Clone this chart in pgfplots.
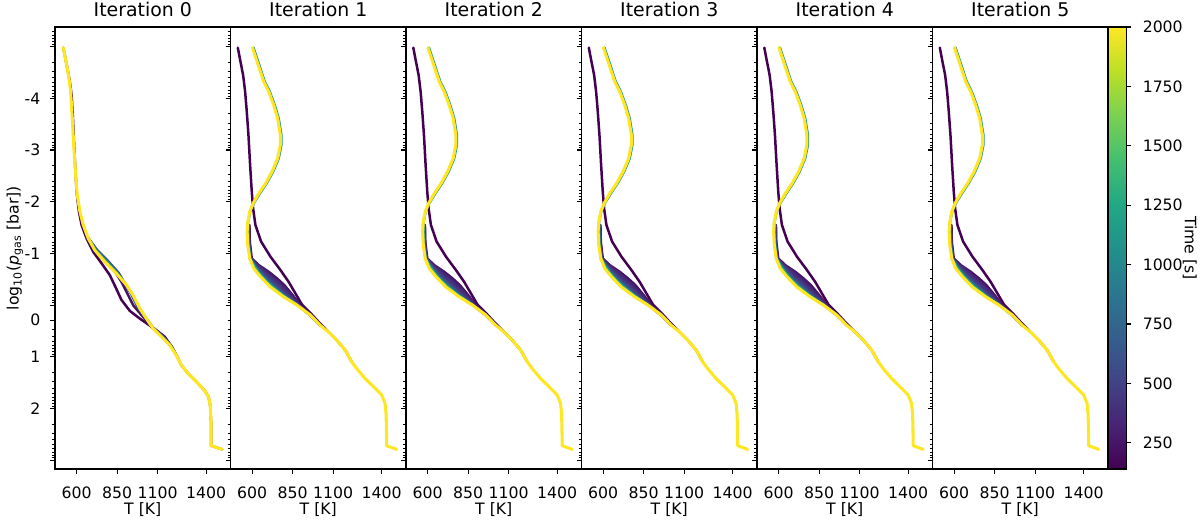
\documentclass[border=0pt]{standalone}
\usepackage{pgfplots}
\pgfplotsset{compat=1.18}
\usepackage{pgfplotstable}
\usepackage{fontspec}
\setmainfont{DejaVu Sans}

\definecolor{v00}{RGB}{68,1,84}
\definecolor{v05}{RGB}{71,19,101}
\definecolor{v10}{RGB}{72,36,117}
\definecolor{v15}{RGB}{70,51,127}
\definecolor{v22}{RGB}{64,71,136}
\definecolor{v25}{RGB}{59,82,139}
\definecolor{v30}{RGB}{53,95,141}
\definecolor{v50}{RGB}{33,145,140}
\definecolor{v60}{RGB}{34,168,132}
\definecolor{v100}{RGB}{253,231,37}

% ---------- Iteration 0 ----------
\pgfplotstableread{
T L
518.3 -4.98
538.8 -4.65
557.2 -4.35
569.6 -4.06
577.8 -3.61
586.0 -3.03
594.2 -2.52
602.4 -2.13
614.7 -1.81
631.1 -1.55
661.8 -1.29
702.9 -1.03
754.1 -0.81
805.4 -0.58
840.3 -0.35
877.2 -0.10
928.5 0.11
990.0 0.26
1082.3 0.46
1143.8 0.61
1189.0 0.81
1221.8 1.00
1246.4 1.16
1287.4 1.32
1338.7 1.48
1390.0 1.65
1414.6 1.77
1424.8 1.94
1431.0 2.32
1431.0 2.72
1498.7 2.79
}\Aone
\pgfplotstableread{
T L
641.3 -1.55
661.8 -1.32
713.1 -1.08
774.7 -0.87
836.2 -0.65
877.2 -0.45
908.0 -0.26
949.0 0.00
1000.3 0.19
1062.0 0.42
1123.3 0.59
1174.6 0.77
}\Atwo
\pgfplotstableread{
T L
672.1 -1.30
723.4 -1.08
795.2 -0.85
860.8 -0.62
897.7 -0.42
934.6 -0.23
975.6 0.03
1024.9 0.24
1074.1 0.45
1133.6 0.60
1184.9 0.79
1215.6 0.97
}\Athree
\pgfplotstableread{
T L
672.1 -1.30
717.2 -1.07
784.9 -0.85
852.6 -0.61
905.9 -0.40
944.9 -0.21
985.9 0.05
1029.0 0.25
1074.1 0.45
}\Afour
\pgfplotstableread{
T L
518.3 -4.98
538.8 -4.65
553.1 -4.39
563.4 -4.13
573.7 -3.61
583.9 -3.03
594.2 -2.52
604.4 -2.13
620.8 -1.81
641.3 -1.55
672.1 -1.29
713.1 -1.06
774.7 -0.84
846.4 -0.61
908.0 -0.39
949.0 -0.19
990.0 0.06
1031.0 0.26
1072.0 0.45
1123.3 0.61
1174.6 0.77
1215.6 0.97
1246.4 1.16
1287.4 1.32
1338.7 1.48
1390.0 1.65
1414.6 1.77
1424.8 1.94
1431.0 2.32
1431.0 2.72
1498.7 2.79
}\Ayel

% ---------- Iterations 1-5 ----------
\pgfplotstableread{
T L
512.1 -4.98
528.5 -4.71
544.9 -4.45
557.2 -4.13
567.5 -3.74
577.8 -3.29
588.0 -2.71
598.3 -2.19
606.5 -1.87
620.8 -1.55
655.7 -1.23
713.1 -0.94
774.7 -0.68
825.9 -0.45
867.0 -0.23
908.0 -0.01
959.2 0.15
1020.8 0.36
1072.0 0.52
1123.3 0.68
1174.6 0.87
1215.6 1.10
}\Bone
\pgfplotstableread{
T L
583.9 -1.55
586.0 -1.226
598.3 -0.903
641.3 -0.774
702.9 -0.645
754.1 -0.516
799.3 -0.387
850.5 -0.194
897.7 0.000
955.1 0.161
1020.8 0.39
}\Btwo
\pgfplotstableread{
T L
581.9 -1.55
583.9 -1.226
594.2 -0.903
635.2 -0.774
688.5 -0.645
737.7 -0.516
782.9 -0.387
840.3 -0.194
891.6 0.000
951.0 0.161
1020.8 0.39
}\Btwob
\pgfplotstableread{
T L
579.8 -1.55
581.9 -1.226
592.1 -0.903
627.0 -0.774
672.1 -0.645
717.2 -0.516
764.4 -0.387
825.9 -0.194
887.5 0.000
946.9 0.161
1020.8 0.39
}\Bthree
\pgfplotstableread{
T L
577.8 -1.55
579.8 -1.226
590.1 -0.903
620.8 -0.774
657.7 -0.645
698.8 -0.516
745.9 -0.387
811.6 -0.194
883.4 0.000
942.8 0.161
}\Bthreeb
\pgfplotstableread{
T L
575.7 -1.55
577.8 -1.226
588.0 -0.903
614.7 -0.774
647.5 -0.645
684.4 -0.516
729.5 -0.387
799.3 -0.194
879.3 0.000
}\Bfour
\pgfplotstableread{
T L
573.7 -1.55
575.7 -1.226
586.0 -0.903
610.6 -0.774
637.2 -0.645
672.1 -0.516
715.2 -0.387
789.0 -0.194
877.2 0.000
}\Bfive
\pgfplotstableread{
T L
608.5 -4.98
637.2 -4.71
678.3 -4.32
709.0 -4.13
739.8 -3.87
764.4 -3.61
780.8 -3.29
780.8 -3.10
764.4 -2.84
729.5 -2.58
688.5 -2.35
647.5 -2.16
610.6 -1.97
588.0 -1.81
571.6 -1.55
}\Bsix
\pgfplotstableread{
T L
602.4 -4.98
631.1 -4.71
672.1 -4.32
702.9 -4.13
733.6 -3.87
758.2 -3.61
774.7 -3.29
774.7 -3.10
758.2 -2.84
723.4 -2.58
682.4 -2.35
641.3 -2.16
606.5 -1.97
586.0 -1.81
573.7 -1.61
569.6 -1.42
573.7 -1.16
586.0 -0.90
610.6 -0.71
651.6 -0.55
713.1 -0.35
795.2 -0.16
877.2 0.00
959.2 0.19
1020.8 0.39
1072.0 0.52
1123.3 0.68
1174.6 0.87
1215.6 1.10
1246.4 1.23
1297.7 1.42
1359.2 1.61
1400.2 1.74
1420.7 1.90
1426.9 2.10
1429.0 2.32
1431.0 2.72
1492.5 2.79
}\Byel

\pgfplotsset{
  panel/.style={
    width=126.36pt, height=318.24pt, scale only axis,
    xmin=467, xmax=1550, ymin=-5.38, ymax=3.17, y dir=reverse,
    xtick={600,850,1100,1400}, xticklabels={600,850,1100,1400},
    xlabel={T [K]},
    minor ytick={-5.301,-5.222,-5.155,-5.097,-5.046,
      -4.699,-4.523,-4.398,-4.301,-4.222,-4.155,-4.097,-4.046,
      -3.699,-3.523,-3.398,-3.301,-3.222,-3.155,-3.097,-3.046,
      -2.699,-2.523,-2.398,-2.301,-2.222,-2.155,-2.097,-2.046,
      -1.699,-1.523,-1.398,-1.301,-1.222,-1.155,-1.097,-1.046,
      -0.699,-0.523,-0.398,-0.301,-0.222,-0.155,-0.097,-0.046,
      0.301,0.477,0.602,0.699,0.778,0.845,0.903,0.954,
      1.301,1.477,1.602,1.699,1.778,1.845,1.903,1.954,
      2.301,2.477,2.602,2.699,2.778,2.845,2.903,2.954},
    tick align=outside, major tick length=3.5pt, minor tick length=2pt,
    xtick pos=bottom, ytick pos=left,
    axis line style={line width=0.8pt},
    major tick style={line width=0.8pt, black},
    minor tick style={line width=0.6pt, black},
    ticklabel style={font=\fontsize{11.3}{13}\selectfont},
    every x tick label/.style={anchor=base, yshift=-17.5pt},
    every y tick label/.style={anchor=east, xshift=-3.5pt},
    every axis x label/.style={at={(axis description cs:0.5,0)}, anchor=base, yshift=-32.8pt, font=\fontsize{11.3}{13}\selectfont},
    every axis y label/.style={at={(axis description cs:-0.228,0.5)}, anchor=center, rotate=90, font=\fontsize{11.3}{13}\selectfont},
    every axis title/.style={at={(axis description cs:0.5,1)}, anchor=base, yshift=7.4pt, font=\fontsize{13.6}{16}\selectfont},
    every axis plot/.append style={mark=none, line join=round, line cap=round},
  },
}
\newcommand\laterpanel{%
  \addplot[v00, line width=1.8pt] table[x=T,y=L]{\Bone};
  \addplot[v05, line width=1.8pt] table[x=T,y=L]{\Btwo};
  \addplot[v10, line width=1.8pt] table[x=T,y=L]{\Btwob};
  \addplot[v15, line width=1.8pt] table[x=T,y=L]{\Bthree};
  \addplot[v22, line width=1.8pt] table[x=T,y=L]{\Bthreeb};
  \addplot[v30, line width=1.8pt] table[x=T,y=L]{\Bfour};
  \addplot[v60, line width=1.8pt] table[x=T,y=L]{\Bfive};
  \addplot[v50, line width=1.8pt] table[x=T,y=L]{\Bsix};
  \addplot[v100, line width=2.2pt] table[x=T,y=L]{\Byel};
}

\begin{document}
\begin{tikzpicture}
\begin{axis}[panel, at={(0pt,0pt)}, title={Iteration 0},
  ytick={-4,-3,-2,-1,0.29,1,2}, yticklabels={-4,-3,-2,-1,0,1,2},
  extra y ticks={-5,0,3}, extra y tick labels={},
  ylabel={log\textsubscript{10}(\textit{p}\textsubscript{gas} [bar])}]
  \addplot[v00, line width=1.8pt] table[x=T,y=L]{\Aone};
  \addplot[v05, line width=1.8pt] table[x=T,y=L]{\Atwo};
  \addplot[v25, line width=1.8pt] table[x=T,y=L]{\Athree};
  \addplot[v50, line width=1.8pt] table[x=T,y=L]{\Afour};
  \addplot[v100, line width=2.2pt] table[x=T,y=L]{\Ayel};
\end{axis}
\begin{axis}[panel, at={(126.36pt,0pt)}, title={Iteration 1},
  ytick={-5,-4,-3,-2,-1,0,1,2,3}, yticklabels={}]
  \laterpanel
\end{axis}
\begin{axis}[panel, at={(252.72pt,0pt)}, title={Iteration 2},
  ytick={-5,-4,-3,-2,-1,0,1,2,3}, yticklabels={}]
  \laterpanel
\end{axis}
\begin{axis}[panel, at={(379.08pt,0pt)}, title={Iteration 3},
  ytick={-5,-4,-3,-2,-1,0,1,2,3}, yticklabels={}]
  \laterpanel
\end{axis}
\begin{axis}[panel, at={(505.44pt,0pt)}, title={Iteration 4},
  ytick={-5,-4,-3,-2,-1,0,1,2,3}, yticklabels={}]
  \laterpanel
\end{axis}
\begin{axis}[panel, at={(631.8pt,0pt)}, title={Iteration 5},
  ytick={-5,-4,-3,-2,-1,0,1,2,3}, yticklabels={},
  colorbar,
  colorbar shift/.style={xshift=0.4pt},
  colormap={vir}{rgb255=(68,1,84) rgb255=(72,36,117) rgb255=(65,68,135) rgb255=(53,95,141) rgb255=(42,120,142) rgb255=(33,145,140) rgb255=(34,168,132) rgb255=(68,191,112) rgb255=(122,209,81) rgb255=(189,223,38) rgb255=(253,231,37)},
  point meta min=140, point meta max=2000,
  colorbar style={
    at={(parent axis.north east)}, anchor=north west,
    scale only axis, width=13pt, height=318.24pt,
    ytick={250,500,750,1000,1250,1500,1750,2000},
    yticklabels={250,500,750,1000,1250,1500,1750,2000},
    yticklabel pos=right, ytick pos=right,
    tick align=outside, major tick length=3.5pt,
    major tick style={line width=0.8pt, black},
    axis line style={line width=0.8pt},
    every y tick label/.style={anchor=west, xshift=4.6pt, font=\fontsize{11.3}{13}\selectfont},
    ylabel={Time [s]},
    every axis y label/.style={at={(axis description cs:4.5,0.5)}, anchor=center, rotate=-90, font=\fontsize{11.3}{13}\selectfont},
  }]
  \laterpanel
\end{axis}
\pgfresetboundingbox
\path (-39.6pt,-36.72pt) rectangle (824.4pt,337.68pt);
\end{tikzpicture}
\end{document}
